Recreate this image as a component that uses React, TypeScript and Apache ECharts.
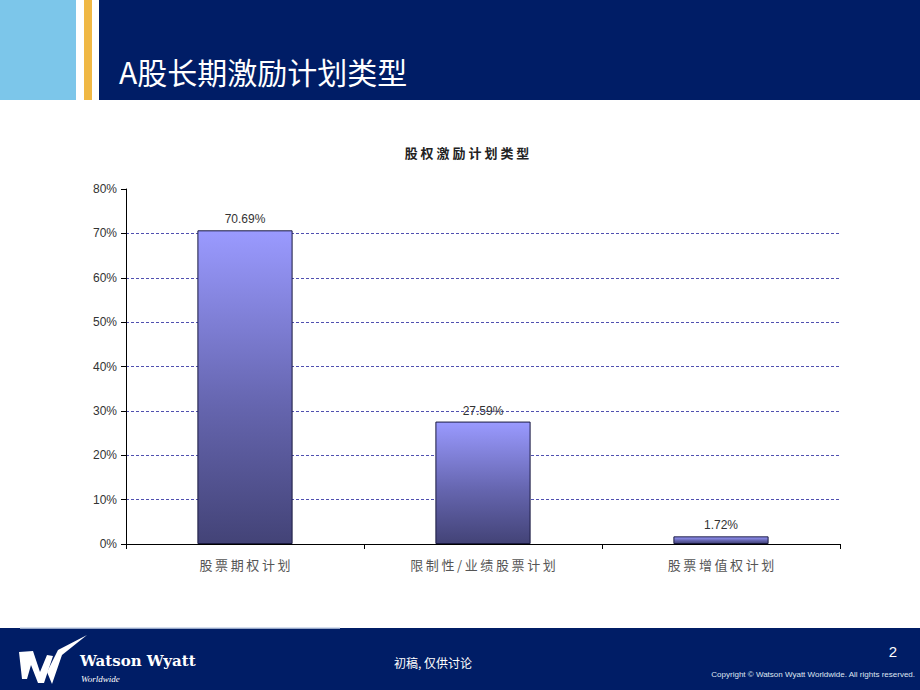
import React, { useEffect, useRef } from "react";
import * as echarts from "echarts";

const categories = ["股票期权计划", "限制性/业绩股票计划", "股票增值权计划"];
const values = [0.7069, 0.2759, 0.0172];
const yTicks = [0, 0.1, 0.2, 0.3, 0.4, 0.5, 0.6, 0.7, 0.8];

const NAVY = "#001d66";
const CJK = '"Noto Sans CJK SC", "Noto Sans", sans-serif';

const spaced = (s: string) => s.split("").join("\u2009");

export default function App() {
  const ref = useRef<HTMLDivElement>(null);
  useEffect(() => {
    if (!ref.current) return;
    const chart = echarts.init(ref.current, null, { renderer: "svg" });
    chart.setOption({
      animation: false,
      backgroundColor: "#ffffff",
      title: {
        text: "股 权 激 励 计 划 类 型",
        left: 462,
        top: 141,
        textAlign: "center",
        textStyle: { fontFamily: "Noto Sans CJK SC", fontSize: 13, fontWeight: "bold", color: "#222" },
      },
      grid: { left: 126, right: 80, top: 189, bottom: 146 },
      xAxis: {
        type: "category",
        data: categories,
        boundaryGap: true,
        axisLine: { lineStyle: { color: "#000", width: 1 } },
        axisTick: { show: true, alignWithLabel: false, length: 5, lineStyle: { color: "#000" } },
        axisLabel: {
          fontFamily: CJK,
          fontSize: 13,
          color: "#555",
          margin: 14,
          formatter: (v: string) => spaced(v),
        },
      },
      yAxis: {
        type: "value",
        min: 0,
        max: 0.8,
        interval: 0.1,
        axisLine: { show: true, lineStyle: { color: "#000", width: 1 } },
        axisTick: { show: true, inside: false, length: 5, lineStyle: { color: "#000" } },
        axisLabel: {
          fontFamily: "Arial, Liberation Sans, sans-serif",
          fontSize: 12,
          color: "#333",
          margin: 9,
          formatter: (v: number) => Math.round(v * 100) + "%",
        },
        splitLine: {
          show: true,
          lineStyle: { color: "#5050b0", type: [3, 2], width: 1 },
          showMaxLine: false,
        },
      },
      series: [
        {
          type: "bar",
          data: values,
          barWidth: "40%",
          itemStyle: {
            color: new echarts.graphic.LinearGradient(0, 0, 0, 1, [
              { offset: 0, color: "#9a9aff" },
              { offset: 0.55, color: "#6666b0" },
              { offset: 1, color: "#434377" },
            ]),
            borderColor: "#1a1a40",
            borderWidth: 1,
          },
          label: {
            show: true,
            position: "top",
            distance: 5,
            fontFamily: "Arial, Liberation Sans, sans-serif",
            fontSize: 12,
            color: "#333",
            formatter: (p: any) => (p.value * 100).toFixed(2) + "%",
          },
        },
      ],
      graphic: [
        { type: "rect", shape: { x: 0, y: 0, width: 76, height: 100 }, style: { fill: "#7cc6ea" }, silent: true },
        { type: "rect", shape: { x: 84, y: 0, width: 8, height: 100 }, style: { fill: "#f0b844" }, silent: true },
        { type: "rect", shape: { x: 99, y: 0, width: 821, height: 100 }, style: { fill: NAVY }, silent: true },
        {
          type: "text",
          x: 119,
          y: 86,
          style: {
            text: "A股长期激励计划类型",
            fill: "#ffffff",
            font: '30px "Noto Sans CJK SC", serif',
            textVerticalAlign: "bottom",
          },
          silent: true,
        },
        { type: "rect", shape: { x: 0, y: 628, width: 920, height: 62 }, style: { fill: NAVY }, silent: true },
        { type: "line", shape: { x1: 20, y1: 628, x2: 340, y2: 628 }, style: { stroke: "#c8d4e8", lineWidth: 1.5 }, silent: true },
        {
          type: "polygon",
          shape: { points: [[19, 652], [33, 651], [40, 672], [47, 655], [53, 656], [44, 683], [38, 683], [31, 665], [27, 679], [22, 679]] },
          style: { fill: "#ffffff" },
          silent: true,
        },
        {
          type: "polygon",
          shape: { points: [[47, 672], [58, 650], [87, 635], [62, 655], [52, 684]] },
          style: { fill: "#ffffff" },
          silent: true,
        },
        {
          type: "text",
          x: 80,
          y: 668,
          style: { text: "Watson Wyatt", fill: "#ffffff", font: 'bold 15px "DejaVu Serif", "Liberation Serif", serif', textVerticalAlign: "bottom" },
          silent: true,
        },
        {
          type: "text",
          x: 81,
          y: 683,
          style: { text: "Worldwide", fill: "#ffffff", font: 'italic 9px "Liberation Serif", serif', textVerticalAlign: "bottom" },
          silent: true,
        },
        {
          type: "text",
          x: 394,
          y: 668,
          style: { text: "初稿, 仅供讨论", fill: "#ffffff", font: '12px "Noto Sans CJK SC", sans-serif', textVerticalAlign: "bottom" },
          silent: true,
        },
        {
          type: "text",
          x: 897,
          y: 659,
          style: { text: "2", fill: "#ffffff", font: '15px "Liberation Sans", Arial, sans-serif', textAlign: "right", textVerticalAlign: "bottom" },
          silent: true,
        },
        {
          type: "text",
          x: 915,
          y: 678,
          style: {
            text: "Copyright © Watson Wyatt Worldwide. All rights reserved.",
            fill: "#dfe6f2",
            font: '8px "Liberation Sans", Arial, sans-serif',
            textAlign: "right",
            textVerticalAlign: "bottom",
          },
          silent: true,
        },
      ],
    });
    return () => chart.dispose();
  }, []);
  return (
    <div
      ref={ref}
      style={{ position: "fixed", left: 0, top: 0, width: 920, height: 690 }}
    />
  );
}
